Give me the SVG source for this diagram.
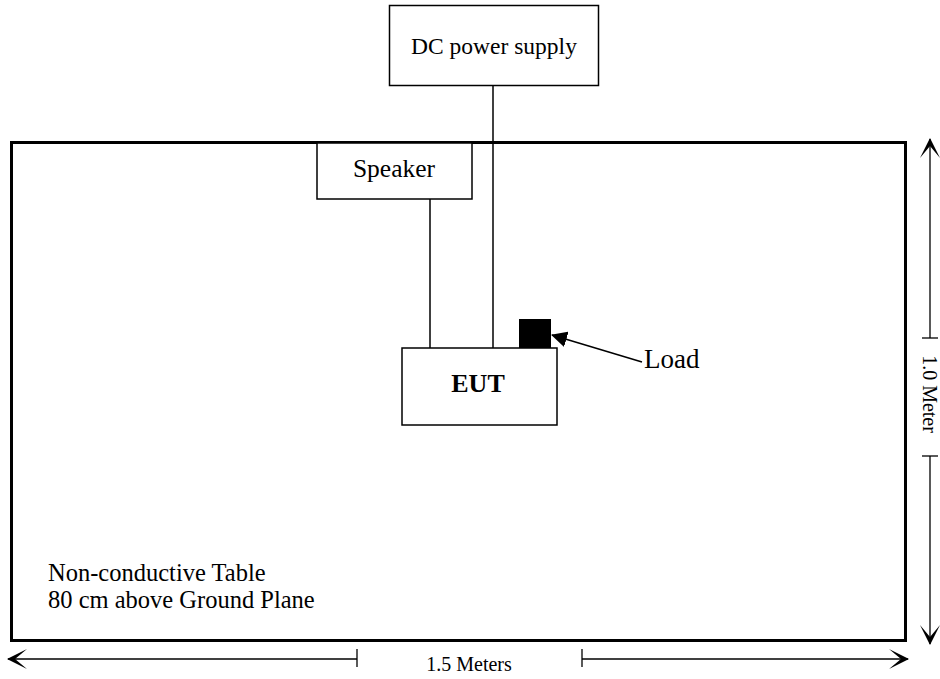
<svg xmlns="http://www.w3.org/2000/svg" width="940" height="679" viewBox="0 0 940 679">
<style>
  text { font-family: "Liberation Serif", "Times New Roman", serif; fill: #000; }
  .box { fill: #fff; stroke: #000; stroke-width: 1.5; }
  .wire { fill: none; stroke: #000; stroke-width: 1.5; }
  .dim { fill: none; stroke: #000; stroke-width: 1.3; }
</style>
<defs>
  <marker id="barb" viewBox="0 0 20 20" refX="19" refY="10" markerWidth="20" markerHeight="20" markerUnits="userSpaceOnUse" orient="auto-start-reverse">
    <path d="M20,10 L0,0 L12,10 L0,20 Z" fill="#000"/>
  </marker>
  <marker id="tri" viewBox="0 0 16 16" refX="15" refY="8" markerWidth="16" markerHeight="16" markerUnits="userSpaceOnUse" orient="auto-start-reverse">
    <path d="M16,8 L0,0 L0,16 Z" fill="#000"/>
  </marker>
</defs>
<g id="table">
  <rect x="11.5" y="142.5" width="894" height="498" fill="#fff" stroke="#000" stroke-width="3"/>
  <text x="48" y="581" font-size="24.5">Non-conductive Table</text>
  <text x="48" y="608" font-size="24.5">80 cm above Ground Plane</text>
</g>
<g id="connectors">
  <line class="wire" x1="642" y1="362" x2="552" y2="335" marker-end="url(#tri)"/>
  <line class="wire" x1="493" y1="86" x2="493" y2="348"/>
  <line class="wire" x1="430" y1="199" x2="430" y2="348"/>
</g>
<g id="dc-power-supply">
  <rect class="box" x="389.5" y="5.5" width="209" height="80"/>
  <text x="494" y="54" font-size="23.5" text-anchor="middle">DC power supply</text>
</g>
<g id="speaker">
  <rect class="box" x="317" y="143" width="155" height="56"/>
  <text x="394" y="177" font-size="25.5" text-anchor="middle">Speaker</text>
</g>
<g id="eut">
  <rect class="box" x="402" y="348" width="155" height="77"/>
  <text x="478" y="392" font-size="26" font-weight="bold" text-anchor="middle">EUT</text>
</g>
<g id="load">
  <rect x="519" y="319" width="32" height="29" fill="#000"/>
  <text x="644" y="368" font-size="27">Load</text>
</g>
<g id="dim-height">
  <line class="dim" x1="930" y1="139" x2="930" y2="338" marker-start="url(#barb)"/>
  <line class="dim" x1="930" y1="456" x2="930" y2="644" marker-end="url(#barb)"/>
  <line class="dim" x1="922" y1="338" x2="938" y2="338"/>
  <line class="dim" x1="922" y1="456" x2="938" y2="456"/>
  <text transform="translate(923,394) rotate(90)" font-size="20" text-anchor="middle">1.0 Meter</text>
</g>
<g id="dim-width">
  <line class="dim" x1="8" y1="659" x2="357" y2="659" marker-start="url(#barb)"/>
  <line class="dim" x1="582" y1="659" x2="908" y2="659" marker-end="url(#barb)"/>
  <line class="dim" x1="357" y1="649" x2="357" y2="667"/>
  <line class="dim" x1="582" y1="649" x2="582" y2="667"/>
  <text x="469" y="671" font-size="20" text-anchor="middle">1.5 Meters</text>
</g>
</svg>
